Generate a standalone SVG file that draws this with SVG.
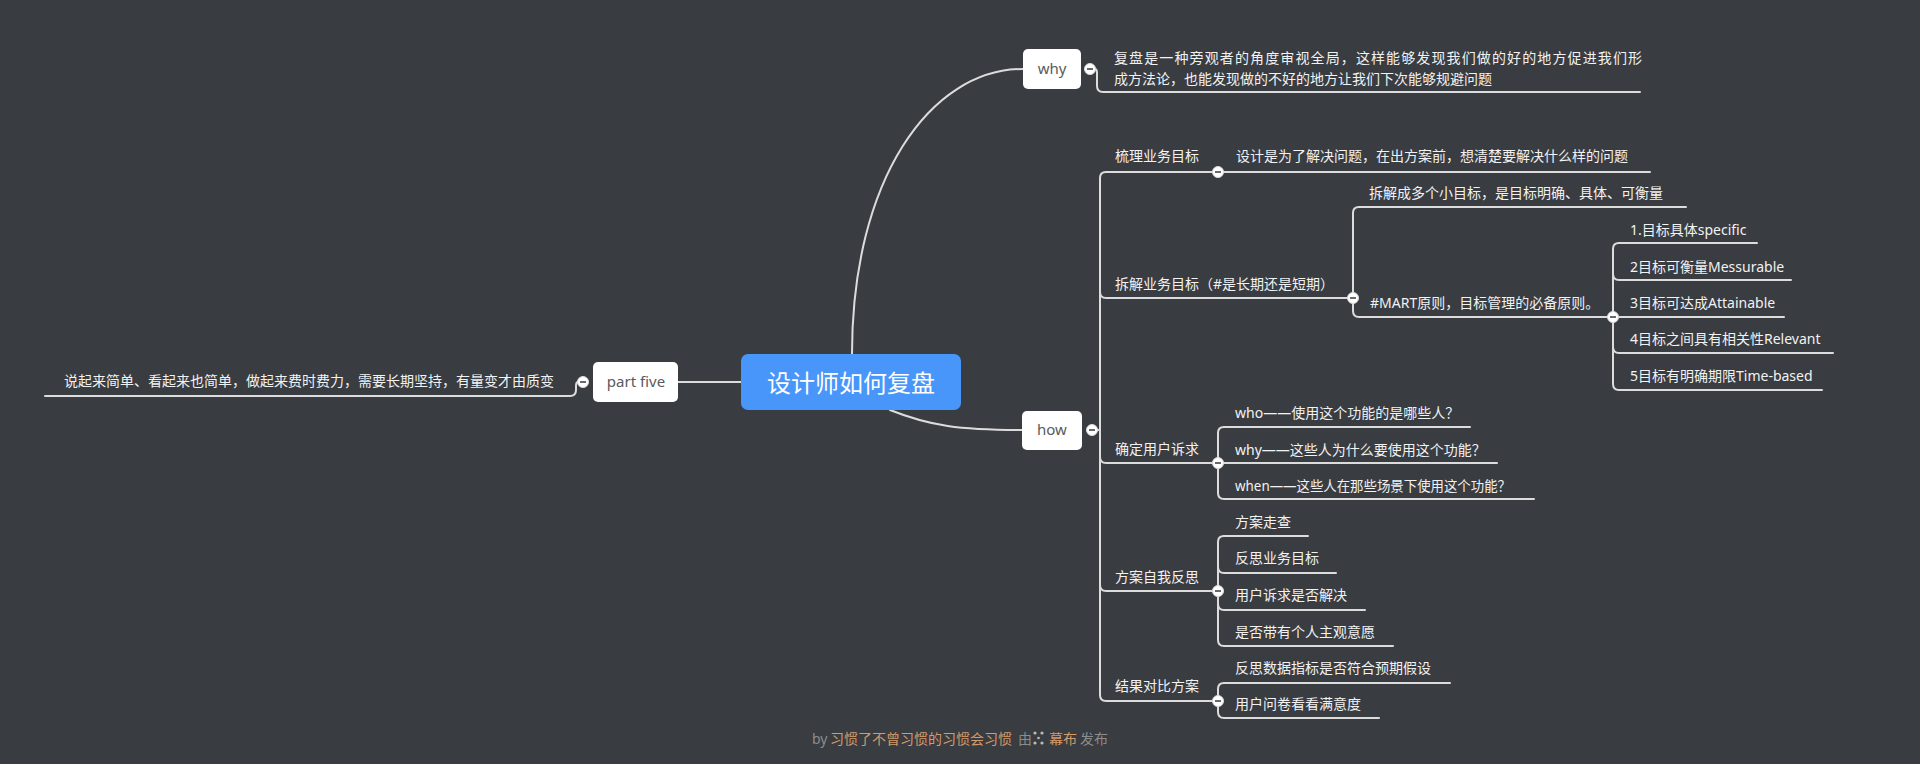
<svg xmlns="http://www.w3.org/2000/svg" width="1920" height="764" viewBox="0 0 1920 764">
<style>
.ln{fill:none;stroke:#dcdcdc;stroke-width:2;stroke-linecap:round}
.t{font-family:"Noto Sans","Noto Sans CJK SC",sans-serif;font-size:14px;fill:#f2f2f2;dominant-baseline:central}
.nb{fill:#ffffff}
.nt{font-family:"Noto Sans","Noto Sans CJK SC",sans-serif;font-size:15px;fill:#5a5a5a;text-anchor:middle;dominant-baseline:central}
.cc{fill:#ffffff;stroke:#dcdcdc;stroke-width:1}
.cm{stroke:#444;stroke-width:1.6}
.ft{font-family:"Noto Sans","Noto Sans CJK SC",sans-serif;font-size:14px;dominant-baseline:central}
</style>
<defs>
<g id="collapse"><circle class="cc" r="5.5"/><line class="cm" x1="-3" y1="0" x2="3" y2="0"/></g>
</defs>
<rect width="1920" height="764" fill="#393c41"/>

<g id="connectors">
<path class="ln" d="M852,354 C852,180 930,69 1023,69"/>
<path class="ln" d="M890,410 C930,426 960,430 1022,430"/>
<path class="ln" d="M678,382 H741"/>
<path class="ln" d="M583,382 H578 Q576,382 576,386 V390 Q576,396 570,396 H45"/>
<path class="ln" d="M1090,69 H1095 Q1097,69 1097,73 V86 Q1097,92 1103,92 H1640"/>
<path class="ln" d="M1092,430 H1100"/>
<path class="ln" d="M1106,172 Q1100,172 1100,178 V695 Q1100,701 1106,701 H1218"/>
<path class="ln" d="M1106,172 H1650"/>
<path class="ln" d="M1100,292 Q1100,298 1106,298 H1353"/>
<path class="ln" d="M1100,457 Q1100,463 1106,463 H1218"/>
<path class="ln" d="M1100,585 Q1100,591 1106,591 H1218"/>
<path class="ln" d="M1359,207 Q1353,207 1353,213 V311 Q1353,317 1359,317 H1613"/>
<path class="ln" d="M1359,207 H1686"/>
<path class="ln" d="M1619,243 Q1613,243 1613,249 V384 Q1613,390 1619,390 H1822"/>
<path class="ln" d="M1619,243 H1757"/>
<path class="ln" d="M1613,274 Q1613,280 1619,280 H1791"/>
<path class="ln" d="M1613,317 H1784"/>
<path class="ln" d="M1613,347 Q1613,353 1619,353 H1833"/>
<path class="ln" d="M1224,427 Q1218,427 1218,433 V493 Q1218,499 1224,499 H1534"/>
<path class="ln" d="M1224,427 H1470"/>
<path class="ln" d="M1218,463 H1497"/>
<path class="ln" d="M1224,536 Q1218,536 1218,542 V640 Q1218,646 1224,646 H1393"/>
<path class="ln" d="M1224,536 H1308"/>
<path class="ln" d="M1218,567 Q1218,573 1224,573 H1336"/>
<path class="ln" d="M1218,604 Q1218,610 1224,610 H1365"/>
<path class="ln" d="M1224,683 Q1218,683 1218,689 V712 Q1218,718 1224,718 H1379"/>
<path class="ln" d="M1224,683 H1450"/>
</g>

<g id="center">
<rect x="741" y="354" width="220" height="56" rx="7" fill="#4896fa"/>
<text x="851" y="381" font-family="'Noto Sans CJK SC',sans-serif" font-size="24" fill="#ffffff" text-anchor="middle" dominant-baseline="central">设计师如何复盘</text>
</g>

<g id="why">
<rect class="nb" x="1023" y="49" width="58" height="40" rx="5"/>
<text class="nt" x="1052" y="68">why</text>
<use href="#collapse" x="1090" y="69"/>
</g>
<g id="why-text">
<text class="t" x="1114" y="57" textLength="528" lengthAdjust="spacing">复盘是一种旁观者的角度审视全局，这样能够发现我们做的好的地方促进我们形</text>
<text class="t" x="1114" y="78">成方法论，也能发现做的不好的地方让我们下次能够规避问题</text>
</g>

<g id="how">
<rect class="nb" x="1022" y="411" width="60" height="39" rx="5"/>
<text class="nt" x="1052" y="429">how</text>
<use href="#collapse" x="1092" y="430"/>
</g>

<g id="partfive">
<rect class="nb" x="593" y="362" width="85" height="40" rx="5"/>
<text class="nt" x="636" y="381">part five</text>
<use href="#collapse" x="583" y="382"/>
</g>
<g id="partfive-text">
<text class="t" x="64" y="380">说起来简单、看起来也简单，做起来费时费力，需要长期坚持，有量变才由质变</text>
</g>

<g id="g1">
<text class="t" x="1115" y="155">梳理业务目标</text>
<use href="#collapse" x="1218" y="172"/>
</g>
<g id="g1a"><text class="t" x="1236" y="155">设计是为了解决问题，在出方案前，想清楚要解决什么样的问题</text></g>

<g id="g2">
<text class="t" x="1115" y="283">拆解业务目标（#是长期还是短期）</text>
<use href="#collapse" x="1353" y="298"/>
</g>
<g id="g2a"><text class="t" x="1369" y="192">拆解成多个小目标，是目标明确、具体、可衡量</text></g>
<g id="g2b">
<text class="t" x="1370" y="302">#MART原则，目标管理的必备原则。</text>
<use href="#collapse" x="1613" y="317"/>
</g>
<g id="s1"><text class="t" x="1630" y="229">1.目标具体specific</text></g>
<g id="s2"><text class="t" x="1630" y="266">2目标可衡量Messurable</text></g>
<g id="s3"><text class="t" x="1630" y="302">3目标可达成Attainable</text></g>
<g id="s4"><text class="t" x="1630" y="338">4目标之间具有相关性Relevant</text></g>
<g id="s5"><text class="t" x="1630" y="375">5目标有明确期限Time-based</text></g>

<g id="g3">
<text class="t" x="1115" y="448">确定用户诉求</text>
<use href="#collapse" x="1218" y="463"/>
</g>
<g id="g3a"><text class="t" x="1235" y="412">who——使用这个功能的是哪些人？</text></g>
<g id="g3b"><text class="t" x="1235" y="449">why——这些人为什么要使用这个功能？</text></g>
<g id="g3c"><text class="t" x="1235" y="485" textLength="276" lengthAdjust="spacingAndGlyphs">when——这些人在那些场景下使用这个功能？</text></g>

<g id="g4">
<text class="t" x="1115" y="576">方案自我反思</text>
<use href="#collapse" x="1218" y="591"/>
</g>
<g id="g4a"><text class="t" x="1235" y="521">方案走查</text></g>
<g id="g4b"><text class="t" x="1235" y="557">反思业务目标</text></g>
<g id="g4c"><text class="t" x="1235" y="594">用户诉求是否解决</text></g>
<g id="g4d"><text class="t" x="1235" y="631">是否带有个人主观意愿</text></g>

<g id="g5">
<text class="t" x="1115" y="685">结果对比方案</text>
<use href="#collapse" x="1218" y="701"/>
</g>
<g id="g5a"><text class="t" x="1235" y="667">反思数据指标是否符合预期假设</text></g>
<g id="g5b"><text class="t" x="1235" y="703">用户问卷看看满意度</text></g>

<g id="footer">
<text class="ft" x="812" y="738" fill="#8c8c8c">by</text>
<text class="ft" x="830" y="738" fill="#d39a6a">习惯了不曾习惯的习惯会习惯</text>
<text class="ft" x="1018" y="738" fill="#8c8c8c">由</text>
<g fill="#bbbbbb"><circle cx="1035" cy="733" r="1.6"/><circle cx="1035" cy="743" r="1.6"/><circle cx="1042" cy="733" r="1.6"/><circle cx="1042" cy="743" r="1.6"/><circle cx="1038.5" cy="738" r="1.3"/></g>
<text class="ft" x="1049" y="738" fill="#d39a6a">幕布</text>
<text class="ft" x="1080" y="738" fill="#8c8c8c">发布</text>
</g>
</svg>
